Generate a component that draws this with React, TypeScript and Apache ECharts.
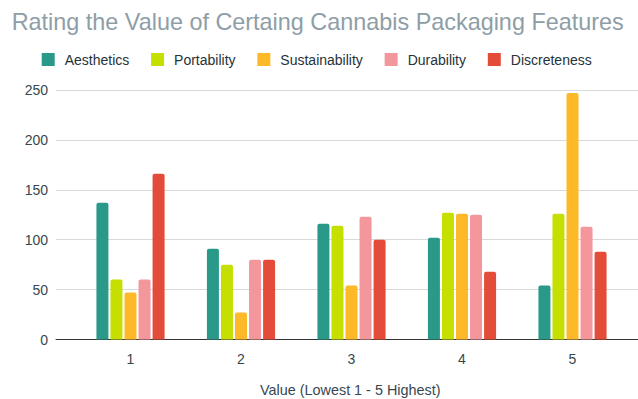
import React, { useEffect, useRef } from "react";
import * as echarts from "echarts";

const categories = ["1", "2", "3", "4", "5"];
const seriesNames = ["Aesthetics", "Portability", "Sustainability", "Durability", "Discreteness"];
const aesthetics = [137, 91, 116, 102, 54];
const portability = [60, 75, 114, 127, 126];
const sustainability = [47, 27, 54, 126, 247];
const durability = [60, 80, 123, 125, 113];
const discreteness = [166, 80, 100, 68, 88];
const seriesColors = ["#2a998a", "#c4df00", "#fdb927", "#f4979c", "#e34c39"];
const yTicks = { min: 0, max: 250, interval: 50 };

const FONT = "'Liberation Sans', Arial, sans-serif";

export default function App() {
  const ref = useRef<HTMLDivElement>(null);
  useEffect(() => {
    if (!ref.current) return;
    const chart = echarts.init(ref.current, undefined, { renderer: "svg" });
    const values = [aesthetics, portability, sustainability, durability, discreteness];
    chart.setOption({
      animation: false,
      textStyle: { fontFamily: FONT },
      title: {
        text: "Rating the Value of Certaing Cannabis Packaging Features",
        left: 6.7,
        top: 5,
        textStyle: { fontFamily: FONT, fontSize: 23.4, fontWeight: "normal", color: "#8e9ea6" },
      },
      legend: {
        data: seriesNames,
        left: 36.7,
        top: 47.5,
        itemWidth: 13,
        itemHeight: 13,
        itemGap: 21.8,
        icon: "rect",
        textStyle: { fontFamily: FONT, fontSize: 14, color: "#263238", padding: [0, 0, 0, 5] },
      },
      grid: [
        { left: 56, right: 0, top: 90, bottom: 59.5, containLabel: false },
        { left: 75.25, right: 10.25, top: 90, bottom: 59.5, containLabel: false },
      ],
      xAxis: [
        {
          type: "category",
          gridIndex: 0,
          data: categories,
          axisLine: { show: true, lineStyle: { color: "#333333", width: 1 } },
          axisTick: { show: false },
          axisLabel: { show: false },
          splitLine: { show: false },
        },
        {
          type: "category",
          gridIndex: 1,
          data: categories,
          axisLine: { show: false },
          axisTick: { show: false },
          axisLabel: { show: true, fontFamily: FONT, fontSize: 14, color: "#37474f", margin: 12 },
          splitLine: { show: false },
        },
      ],
      yAxis: [
        {
          type: "value",
          gridIndex: 0,
          min: yTicks.min,
          max: yTicks.max,
          interval: yTicks.interval,
          axisLine: { show: false },
          axisTick: { show: false },
          axisLabel: { fontFamily: FONT, fontSize: 14, color: "#37474f", margin: 8 },
          splitLine: { show: true, lineStyle: { color: "#d9d9d9", width: 1 } },
        },
        {
          type: "value",
          gridIndex: 1,
          min: yTicks.min,
          max: yTicks.max,
          interval: yTicks.interval,
          show: false,
          splitLine: { show: false },
        },
      ],
      graphic: [
        {
          type: "text",
          left: 260,
          top: 383,
          style: {
            text: "Value (Lowest 1 - 5 Highest)",
            fontFamily: FONT,
            fontSize: 14.4,
            fill: "#37474f",
          },
        },
      ],
      series: seriesNames.map((name, i) => ({
        name,
        type: "bar",
        xAxisIndex: 1,
        yAxisIndex: 1,
        data: values[i],
        barWidth: 12,
        barGap: "17%",
        itemStyle: { color: seriesColors[i], borderRadius: [2, 2, 0, 0] },
        z: 3,
      })),
    });
    return () => chart.dispose();
  }, []);
  return <div ref={ref} style={{ width: 638, height: 399, position: "absolute", left: 0, top: 0 }} />;
}
